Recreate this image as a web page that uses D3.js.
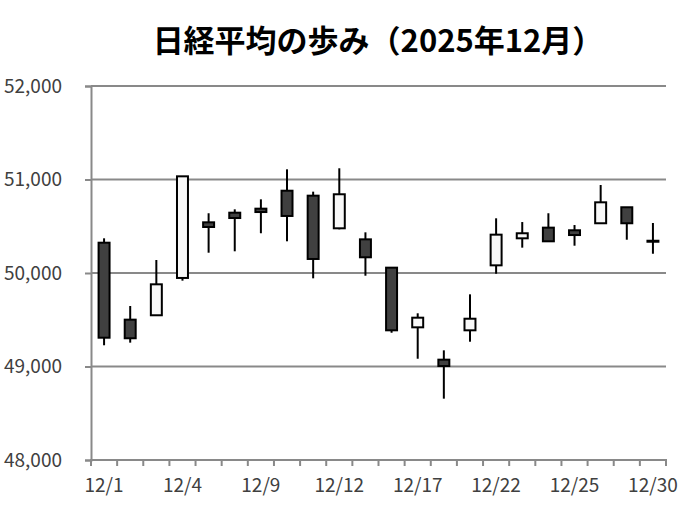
<!DOCTYPE html>
<html>
<head>
<meta charset="utf-8">
<script src="https://cdn.jsdelivr.net/npm/d3@7"></script>
<style>
  body { margin: 0; background: #fff; }
  svg { display: block; }
</style>
</head>
<body>
<svg id="chart" width="690" height="512"></svg>
<script>
// DATA
let dates = ['12/1','12/2','12/3','12/4','12/5','12/8','12/9','12/10','12/11','12/12','12/15',
             '12/16','12/17','12/18','12/19','12/22','12/23','12/24','12/25','12/26','12/29','12/30'];
let open  = [50324,49501,49548,49947,50542,50645,50688,50880,50827,50478,50360,
             50057,49419,49073,49387,50082,50371,50485,50457,50532,50703,50345];
let high  = [50371,49647,50139,51034,50639,50681,50788,51109,50870,51120,50435,
             50057,49569,49173,49772,50585,50545,50639,50513,50941,50703,50535];
let low   = [49227,49255,49540,49918,50217,50232,50425,50339,49943,50467,49971,
             49361,49083,48656,49265,49992,50271,50335,50292,50532,50356,50206];
let close = [49308,49302,49879,51034,50492,50588,50652,50610,50150,50842,50168,
             49387,49522,49005,49511,50410,50425,50339,50406,50756,50532,50339];
let yTicks = [48000,49000,50000,51000,52000];

let data = dates.map((d, i) => ({date: d, o: open[i], h: high[i], l: low[i], c: close[i]}));

let svg = d3.select('#chart');
let m = {left: 91, right: 666, top: 86, bottom: 460};
let labelFont = '"Noto Sans CJK JP", "Noto Sans", sans-serif';

// scales
let x = d3.scaleBand()
  .domain(dates)
  .range([m.left, m.right])
  .paddingInner(0)
  .paddingOuter(0);

let y = d3.scaleLinear()
  .domain([48000, 52000])
  .range([m.bottom, m.top]);

// title
svg.append('text')
  .attr('x', 378)
  .attr('y', 52)
  .attr('text-anchor', 'middle')
  .attr('font-family', labelFont)
  .attr('font-weight', 'bold')
  .attr('font-size', 31)
  .attr('fill', '#000')
  .text('日経平均の歩み（2025年12月）');

// gridlines
svg.append('g')
  .attr('class', 'grid')
  .selectAll('line')
  .data(yTicks.filter(t => t > 48000))
  .enter().append('line')
  .attr('x1', m.left)
  .attr('x2', m.right)
  .attr('y1', d => y(d))
  .attr('y2', d => y(d))
  .attr('stroke', '#898989')
  .attr('stroke-width', 2);

// y axis
svg.append('g')
  .attr('class', 'y-axis')
  .attr('transform', `translate(${m.left},0)`)
  .call(d3.axisLeft(y).tickValues(yTicks).tickSize(6).tickPadding(23).tickFormat(d3.format(',')))
  .call(g => g.select('.domain').attr('stroke', '#898989').attr('stroke-width', 2))
  .call(g => g.selectAll('.tick line').attr('stroke', '#898989').attr('stroke-width', 2))
  .call(g => g.selectAll('.tick text')
    .attr('font-family', labelFont)
    .attr('font-size', 19)
    .attr('fill', '#404040'));

// x axis: ticks between categories, labels every 3rd day
let edges = dates.map(d => x(d)).concat([m.right]);
let xg = svg.append('g').attr('class', 'x-axis');
xg.append('line')
  .attr('x1', m.left - 1)
  .attr('x2', m.right + 1)
  .attr('y1', m.bottom)
  .attr('y2', m.bottom)
  .attr('stroke', '#898989')
  .attr('stroke-width', 2);
xg.selectAll('line.tick')
  .data(edges)
  .enter().append('line')
  .attr('class', 'tick')
  .attr('x1', d => d)
  .attr('x2', d => d)
  .attr('y1', m.bottom)
  .attr('y2', m.bottom + 6)
  .attr('stroke', '#898989')
  .attr('stroke-width', 2);
xg.selectAll('text')
  .data(dates.filter((d, i) => i % 3 === 0))
  .enter().append('text')
  .attr('x', d => x(d) + x.bandwidth() / 2)
  .attr('y', 492)
  .attr('text-anchor', 'middle')
  .attr('font-family', labelFont)
  .attr('font-size', 19)
  .attr('fill', '#404040')
  .text(d => d);

// candles
let bodyW = x.bandwidth() * 0.42;
let candle = svg.append('g')
  .attr('class', 'candles')
  .selectAll('g.candle')
  .data(data)
  .enter().append('g')
  .attr('class', 'candle')
  .attr('transform', d => `translate(${x(d.date) + x.bandwidth() / 2},0)`);

candle.append('line')
  .attr('y1', d => y(d.h))
  .attr('y2', d => y(d.l))
  .attr('stroke', '#000')
  .attr('stroke-width', 2);

candle.append('rect')
  .attr('x', -bodyW / 2)
  .attr('y', d => y(Math.max(d.o, d.c)))
  .attr('width', bodyW)
  .attr('height', d => Math.max(1, Math.abs(y(d.o) - y(d.c))))
  .attr('fill', d => d.c >= d.o ? '#f8f8f8' : '#404040')
  .attr('stroke', '#000')
  .attr('stroke-width', 2);
</script>
</body>
</html>
